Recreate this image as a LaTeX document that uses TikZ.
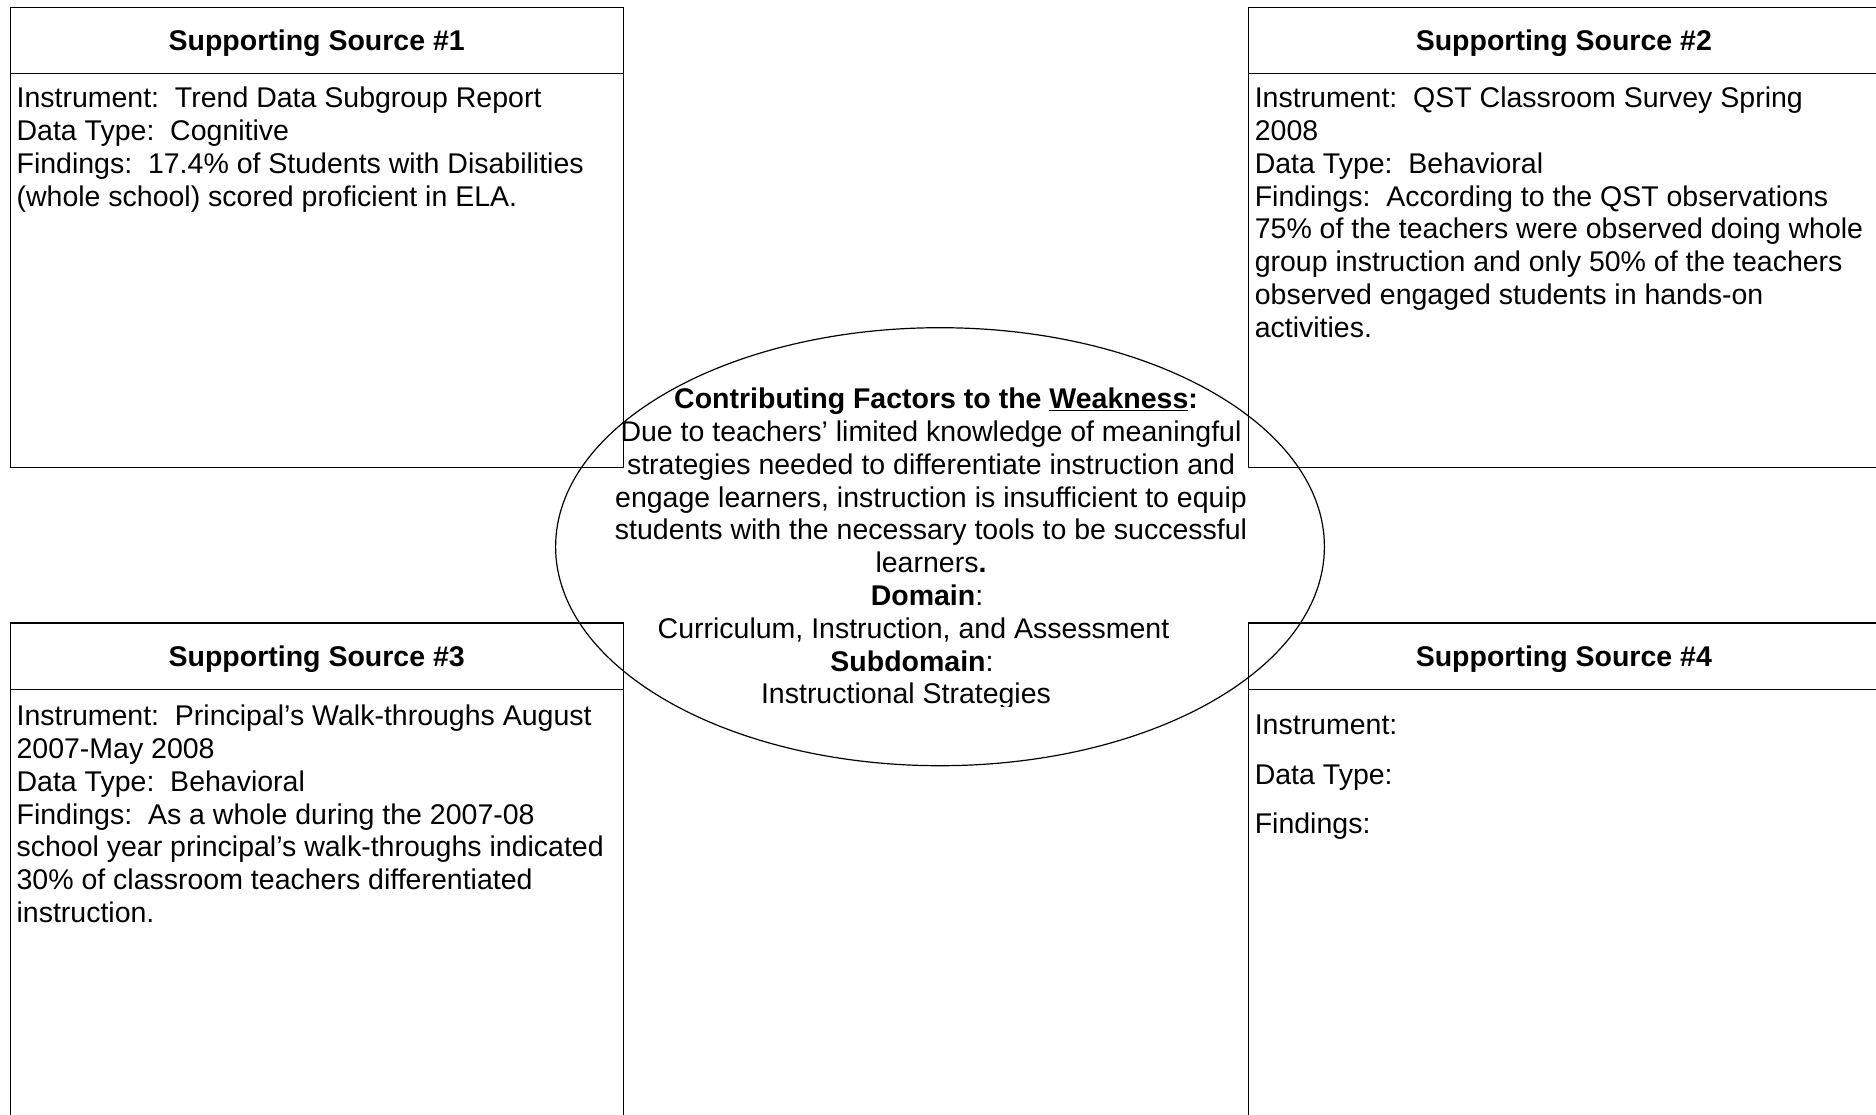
\documentclass[tikz,border=0pt]{standalone}
\usepackage{fontspec}
\setmainfont{Liberation Sans}
\usetikzlibrary{shapes.geometric}
\newcommand{\bodyfont}{\fontsize{28.5}{32.8}\selectfont}
\tikzset{every node/.style={inner sep=0pt}}
\tikzset{src/.style={rectangle,draw,anchor=north west}}
\tikzset{hd/.style={src,font=\bodyfont\bfseries,text depth=0pt}}
\tikzset{t/.style={anchor=north west,align=left,font=\bodyfont,execute at begin node=\strut}}

\begin{document}
\begin{tikzpicture}[x=1pt,y=-1pt,line width=1.2pt]
      \useasboundingbox (0,0) rectangle (1876,1114);
      \clip (0,0) rectangle (1876,1114);
      \foreach \n/\x/\y/\w/\h in {1/9.5/6.5/613.2/460.5,2/1247.7/6.5/631/460.5,3/9.5/622.3/613.2/520,4/1247.7/622.3/631/520} {
        \node[src,minimum width=\w pt,minimum height=\h pt] (B\n) at (\x,\y) {};
        \node[hd,minimum width=\w pt,minimum height=66.5pt] (H\n) at (\x,\y) {Supporting Source \#\n};
      }
      \node[ellipse,draw,minimum width=768.8pt,minimum height=438pt] (C) at (940,546.7) {};
      \node[t] (F1) at (16,86.5) {Instrument:\ \ Trend Data Subgroup Report\\Data Type:\ \ Cognitive\\Findings:\ \ 17.4\% of Students with Disabilities\\(whole school) scored proficient in ELA.};
      \node[t] (F2) at (1254.2,86.5) {Instrument:\ \ QST Classroom Survey Spring\\2008\\Data Type:\ \ Behavioral\\Findings:\ \ According to the QST observations\\75\% of the teachers were observed doing whole\\group instruction and only 50\% of the teachers\\observed engaged students in hands-on\\activities.};
      \node[t] (F3) at (16,704.5) {Instrument:\ \ Principal’s Walk-throughs August\\2007-May 2008\\Data Type:\ \ Behavioral\\Findings:\ \ As a whole during the 2007-08\\school year principal’s walk-throughs indicated\\30\% of classroom teachers differentiated\\instruction.};
      \node[t] (F4) at (1254.2,714.5) {Instrument:\\[16.8pt]Data Type:\\[16.8pt]Findings:};
      % text box of the ellipse is cut off at the bottom
      \begin{scope}
        \clip (0,0) rectangle (1876,706);
        \node[t,anchor=north,align=center] (CT) at (931,387.5) {\hspace*{10pt}\textbf{Contributing Factors to the \underline{Weakness}:}\\Due to teachers’ limited knowledge of meaningful\\strategies needed to differentiate instruction and\\engage learners, instruction is insufficient to equip\\students with the necessary tools to be successful\\learners\textbf{.}\\\hspace*{-8pt}\textbf{Domain}:\\\hspace*{-35pt}Curriculum, Instruction, and Assessment\\\hspace*{-38pt}\textbf{Subdomain}:\\\hspace*{-50pt}Instructional Strategies};
      \end{scope}
    \end{tikzpicture}
\end{document}
